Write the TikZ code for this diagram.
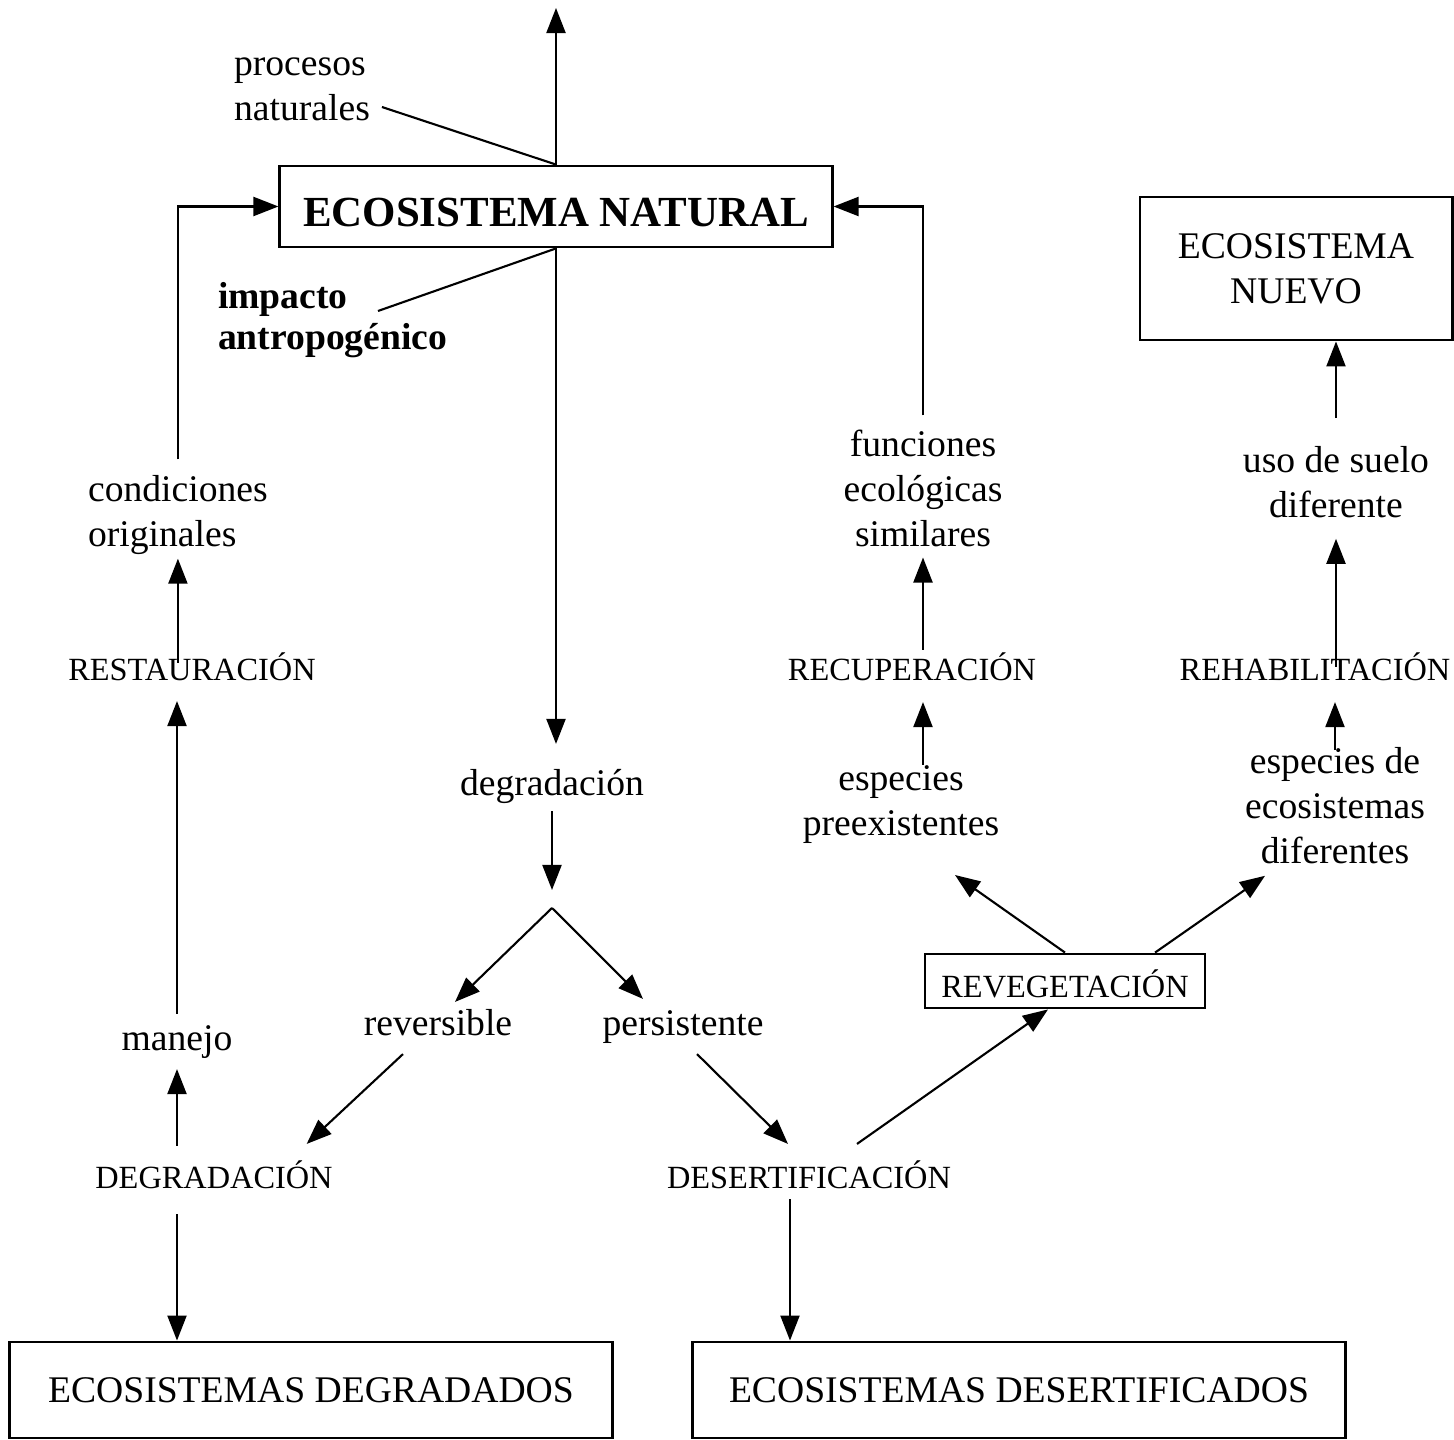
\documentclass[tikz,border=0pt]{standalone}
\usepackage{fontspec}
\setmainfont{Liberation Serif}
\usetikzlibrary{arrows.meta}

\begin{document}
\begin{tikzpicture}[x=0.01cm,y=-0.01cm,>={Triangle[length=0.25cm,width=0.19cm]},line width=0.6pt,
lbl/.style={inner sep=0pt,font=\fontsize{10.7}{12.8}\selectfont,text height=0.26cm,text depth=0.08cm},
txt/.style={inner sep=0pt,font=\fontsize{10.7}{12.8}\selectfont,align=center},
caps/.style={inner sep=0pt,font=\fontsize{9.2}{11}\selectfont,text height=0.32cm,text depth=0cm},
box/.style={draw,line width=0.8pt,inner sep=0pt,font=\fontsize{10.7}{12.8}\selectfont,align=center}]
\useasboundingbox (0,0) rectangle (1454,1440);
\node[box,font=\bfseries\fontsize{12.2}{14}\selectfont,text height=0.405cm,text depth=0cm,minimum width=5.52cm,minimum height=0.81cm] (nat) at (556,206.5) {ECOSISTEMA NATURAL};
\node[box,minimum width=3.12cm,minimum height=1.43cm] (nuevo) at (1296,268.5) {ECOSISTEMA\\NUEVO};
\node[box,font=\fontsize{9.2}{11}\selectfont,text height=0.32cm,text depth=0cm,minimum width=2.8cm,minimum height=0.54cm] (reveg) at (1065,981) {REVEGETACIÓN};
\node[box,minimum width=6.02cm,minimum height=0.96cm] (edeg) at (311,1390) {ECOSISTEMAS DEGRADADOS};
\node[box,minimum width=6.52cm,minimum height=0.96cm] (edes) at (1019,1390) {ECOSISTEMAS DESERTIFICADOS};
\node[txt,align=left,anchor=west] (proc) at (233,89) {procesos\\naturales};
\node[txt,align=left,anchor=west,font=\bfseries\fontsize{10.7}{11.7}\selectfont] (imp) at (217,320) {impacto\\antropogénico};
\node[txt,align=left,anchor=west] (cond) at (87,515) {condiciones\\originales};
\node[caps] (resta) at (192,664) {RESTAURACIÓN};
\node[lbl] (manejo) at (177,1041) {manejo};
\node[caps] (degu) at (214,1172) {DEGRADACIÓN};
\node[lbl] (deg) at (552,786) {degradación};
\coordinate (fork) at (552,908);
\coordinate (top) at (557,8);
\node[lbl] (rev) at (438,1026) {reversible};
\node[lbl] (pers) at (683,1026) {persistente};
\node[caps] (deser) at (809,1172) {DESERTIFICACIÓN};
\coordinate (desdrop) at ([xshift=-0.19cm]deser.south);
\node[txt] (func) at (923,488) {funciones\\ecológicas\\similares};
\node[caps] (recu) at (912,664) {RECUPERACIÓN};
\node[txt] (espre) at (901,805) {especies\\preexistentes};
\node[caps] (rehab) at (1315,664) {REHABILITACIÓN};
\node[txt] (espdif) at (1335,805.5) {especies de\\ecosistemas\\diferentes};
\node[txt] (uso) at (1336,482) {uso de suelo\\diferente};
\draw[->] (nat.north) -- (nat.north |- top);
\draw ([shift={(11,18)}]proc.east) -- (nat.north);
\draw ([shift={(161,-9)}]imp.west) -- (nat.south);
\draw[->,shorten >=0.24cm] (nat.south) -- (nat.south |- deg.north);
\draw[->,shorten <=0.07cm,shorten >=0.18cm] (deg.south) -- (fork);
\draw[->] (fork) -- ([shift={(17,-6)}]rev.north);
\draw[->] (fork) -- ([shift={(-40,-9)}]pers.north);
\draw[->] ([shift={(-35,10)}]rev.south) -- ([shift={(-27,-11)}]degu.north east);
\draw[->] ([shift={(14,10)}]pers.south) -- ([shift={(-21,-11)}]deser.north);
\draw[->] ([shift={(48,-11)}]deser.north) -- ([xshift=-0.17cm]reveg.south);
\draw[->] (reveg.north) -- ([shift={(54,30)}]espre.south);
\draw[->] ([xshift=0.9cm]reveg.north) -- ([shift={(-70,11)}]espdif.south);
\draw[->,shorten >=0.21cm] (espre.north -| func) -- (func |- recu.south);
\draw[->,shorten <=-0.03cm,shorten >=0.1cm] (recu.north -| func) -- (func.south);
\draw[->,shorten <=0.13cm] (func.north) |- (nat.east);
\draw[->,shorten <=-0.04cm,shorten >=0.21cm] (espdif.north) -- (espdif.north |- rehab.south);
\draw[->,shorten <=-0.2cm,shorten >=0.2cm] (rehab.north -| uso) -- (uso.south);
\draw[->,shorten <=0.27cm] (uso.north) -- (uso.north |- nuevo.south);
\draw[->,shorten <=0.09cm,shorten >=0.1cm] (degu.north -| manejo) -- (manejo.south);
\draw[->,shorten <=0.09cm,shorten >=0.2cm] (manejo.north) -- (manejo.north |- resta.south);
\draw[->,shorten <=-0.16cm,shorten >=0.03cm] (resta.north -| cond) -- (cond.south);
\draw[->,shorten <=0.15cm] (cond.north) |- (nat.west);
\draw[->,shorten <=0.25cm] (degu.south -| manejo) -- (manejo |- edeg.north);
\draw[->,shorten <=0.1cm] (desdrop) -- (desdrop |- edes.north);
\end{tikzpicture}
\end{document}
